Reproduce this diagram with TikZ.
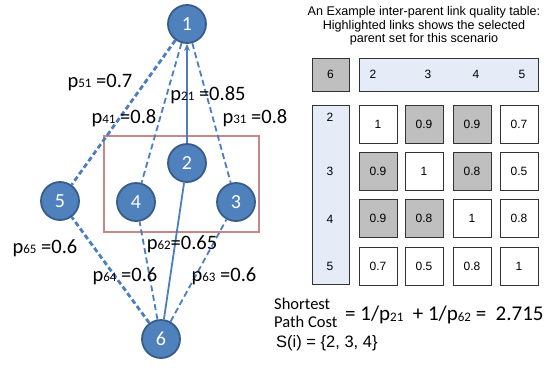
\documentclass[tikz,border=0pt]{standalone}
\usepackage{fontspec}
\setmainfont{Carlito}
\newfontfamily\arialfont{Liberation Sans}
\usetikzlibrary{arrows.meta}

\definecolor{nodeblue}{RGB}{79,129,189}
\definecolor{nodeborder}{RGB}{56,93,138}
\definecolor{linkblue}{RGB}{74,126,193}
\definecolor{boxred}{RGB}{196,136,134}
\definecolor{cellgray}{RGB}{191,191,191}
\definecolor{headblue}{RGB}{230,236,247}

\newcommand{\lsub}[1]{\raisebox{-0.5pt}{\fontsize{13}{13}\selectfont #1}}

\tikzstyle{parent}=[circle,fill=nodeblue,draw=nodeborder,line width=1.8pt,minimum size=38pt,inner sep=0pt,text=white,font=\fontsize{20}{20}\selectfont]
\tikzstyle{link} = [draw,linkblue,line width=1.8pt,dash pattern=on 6pt off 3.5pt]
\tikzstyle{weaklink} = [draw,linkblue,line width=2.8pt,dash pattern=on 5pt off 3pt]
\tikzstyle{best} = [draw,linkblue,line width=1.8pt]
\tikzstyle{plabel}=[inner sep=0pt,font=\fontsize{20.5}{20.5}\selectfont]
\tikzstyle{cell}=[draw=black!80,line width=0.6pt,minimum size=38pt,inner sep=0pt,font=\arialfont\fontsize{12}{12}\selectfont]
\tikzstyle{sel}=[cell,fill=cellgray]
\tikzstyle{head}=[draw=black!80,line width=0.6pt,inner sep=0pt]
\tikzstyle{headtext}=[inner sep=0pt,font=\arialfont\fontsize{12}{12}\selectfont]

\begin{document}
\begin{tikzpicture}[x=1pt,y=-1pt]
			\useasboundingbox (0,0) rectangle (553,367);
			% parent set frame
			\node[draw=boxred,line width=1.5pt,minimum width=155pt,minimum height=96pt,inner sep=0pt] (pset) at (181.5,184) {};
			% the parents
			\node[parent] (n1) at (187,24) {1};
			\node[parent] (n2) at (187,163) {2};
			\node[parent] (n3) at (236,202) {3};
			\node[parent] (n4) at (136,202) {4};
			\node[parent] (n5) at (60,201) {5};
			\node[parent] (n6) at (161,339) {6};
			% links between parents
			\foreach \source/ \dest in {n1/n4, n1/n3, n6/n4, n6/n3}
				\path[link] (\source) -- (\dest);
			\foreach \source/ \dest in {n1/n5, n6/n5}
				\path[weaklink] (\source) -- (\dest);
			\path[best,-{Stealth[length=7pt,width=6pt]}] (n2) -- (n1);
			\path[best] (n6) -- (n2);
			% link qualities
			\node[plabel] (lp51) at (100,82) {p\lsub{51} =0.7};
			\node[plabel] (lp21) at (208,95) {p\lsub{21} =0.85};
			\node[plabel] (lp41) at (124,118) {p\lsub{41} =0.8};
			\node[plabel] (lp31) at (255,118) {p\lsub{31} =0.8};
			\node[plabel] (lp65) at (45,248) {p\lsub{65} =0.6};
			\node[plabel] (lp62) at (182,244) {p\lsub{62}=0.65};
			\node[plabel] (lp64) at (125,276) {p\lsub{64} =0.6};
			\node[plabel] (lp63) at (224,276) {p\lsub{63} =0.6};
			% quality table
			\node[align=center,inner sep=0pt,font=\arialfont\fontsize{12.6}{13.5}\selectfont] (title) at (424,26)
				{An Example inter-parent link quality table:\\Highlighted links shows the selected\\parent set for this scenario};
			\node[head,fill=cellgray,minimum width=37pt,minimum height=33pt] (hd6) at (330.5,74.5) {};
			\node[head,fill=headblue,minimum width=179pt,minimum height=33pt] (hdcols) at (448.5,74.5) {};
			\node[head,fill=headblue,minimum width=37pt,minimum height=179pt] (hdrows) at (330.5,194.5) {};
			\node[headtext] (t6) at (hd6) {6};
			\foreach \name/\x/\v in {tc2/373/2, tc3/428/3, tc4/476/4, tc5/522/5}
				\node[headtext] (\name) at (\x,74.5) {\v};
			\foreach \name/\y/\v in {tr2/117/2, tr3/171/3, tr4/219/4, tr5/266/5}
				\node[headtext] (\name) at (330,\y) {\v};
			\foreach \name/\x/\y/\v/\st in {c22/378/124/1/cell, c23/424/124/0.9/sel, c24/472/124/0.9/sel, c25/519/124/0.7/cell,
					c32/378/171/0.9/sel, c33/424/171/1/cell, c34/472/171/0.8/sel, c35/519/171/0.5/cell,
					c42/378/218/0.9/sel, c43/424/218/0.8/sel, c44/472/218/1/cell, c45/519/218/0.8/cell,
					c52/378/266/0.7/cell, c53/424/266/0.5/cell, c54/472/266/0.8/cell, c55/519/266/1/cell}
				\node[\st] (\name) at (\x,\y) {\v};
			% path cost
			\node[anchor=west,align=left,inner sep=0pt,font=\fontsize{16.5}{17.5}\selectfont] (spc) at (274,313) {Shortest\\Path Cost};
			\node[anchor=west,inner sep=0pt,font=\fontsize{21}{21}\selectfont] (cost) at (345,315) {= 1/p\lsub{21} \ + 1/p\lsub{62} = \ 2.715};
			\node[anchor=west,inner sep=0pt,font=\arialfont\fontsize{16.5}{16.5}\selectfont] (sset) at (276,343) {S(i) = \{2, 3, 4\}};
		\end{tikzpicture}
\end{document}
